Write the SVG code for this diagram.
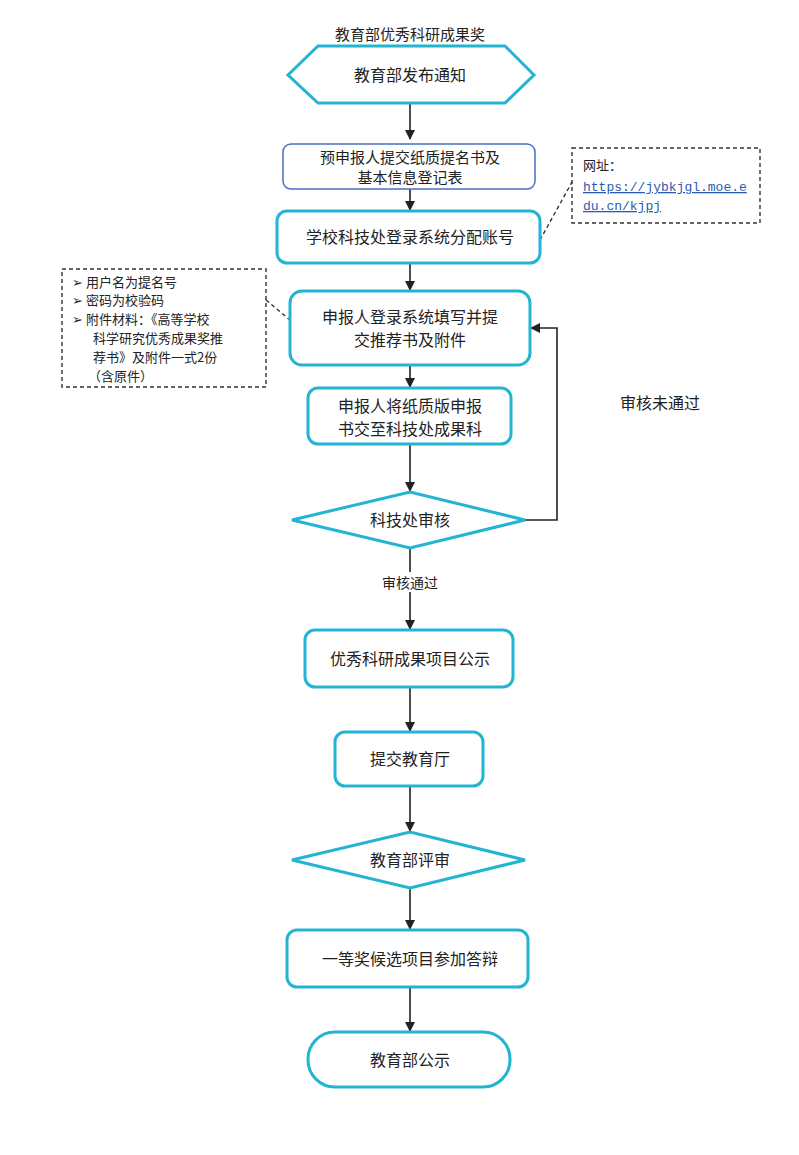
<svg xmlns="http://www.w3.org/2000/svg" width="799" height="1155" viewBox="0 0 799 1155">
<defs>
<style>
text{font-family:"Noto Sans CJK SC","Liberation Serif",sans-serif;font-size:16px;fill:#222;text-anchor:middle}
.n{fill:#fff;stroke:#22b5d2;stroke-width:3}
.c{stroke:#222;stroke-width:1.6;fill:none}
.d{stroke:#333;stroke-width:1.4;fill:none;stroke-dasharray:4 3}
.s{font-size:13px;text-anchor:start}
.l{font-family:"Liberation Mono",monospace;font-size:13px;fill:#2a5db0;text-decoration:underline;text-anchor:start}
</style>
<marker id="a" markerWidth="10" markerHeight="10" refX="9" refY="5" orient="auto" markerUnits="userSpaceOnUse"><path d="M0,0L10,5L0,10z" fill="#222"/></marker>
</defs>
<rect width="799" height="1155" fill="#fff"/>
<text x="410" y="40" style="font-size:15px">教育部优秀科研成果奖</text>
<g id="connectors">
<path class="c" marker-end="url(#a)" d="M410,103V139"/>
<path class="c" marker-end="url(#a)" d="M410,189V210"/>
<path class="c" marker-end="url(#a)" d="M410,263V290"/>
<path class="c" marker-end="url(#a)" d="M410,365V387"/>
<path class="c" marker-end="url(#a)" d="M410,444V491"/>
<path class="c" marker-end="url(#a)" d="M525,520H557V328H531"/>
<path class="c" marker-end="url(#a)" d="M410,548V629"/>
<path class="c" marker-end="url(#a)" d="M410,687V731"/>
<path class="c" marker-end="url(#a)" d="M410,786V831"/>
<path class="c" marker-end="url(#a)" d="M410,888V929"/>
<path class="c" marker-end="url(#a)" d="M410,987V1031"/>
<path class="d" d="M540,240L572,182"/>
<path class="d" d="M266,300L290,320"/>
<text x="660" y="409">审核未通过</text>
<rect x="376" y="572" width="68" height="20" fill="#fff"/>
<text x="410" y="588" style="font-size:14px">审核通过</text>
</g>
<g id="n1"><polygon class="n" points="288,75 318,46 505,46 534,75 505,103 318,103"/><text x="410" y="81">教育部发布通知</text></g>
<g id="n2"><rect x="283" y="144" width="252" height="45" rx="8" fill="#fff" stroke="#4a6fc0" stroke-width="1.5"/><text x="410" y="163" style="font-size:15px">预申报人提交纸质提名书及</text><text x="410" y="183" style="font-size:15px">基本信息登记表</text></g>
<g id="n3"><rect class="n" x="277" y="211" width="263" height="52" rx="10"/><text x="410" y="243">学校科技处登录系统分配账号</text></g>
<g id="n4"><rect class="n" x="290" y="291" width="240" height="74" rx="12"/><text x="410" y="323">申报人登录系统填写并提</text><text x="410" y="346">交推荐书及附件</text></g>
<g id="n5"><rect class="n" x="308" y="388" width="203" height="56" rx="10"/><text x="410" y="412">申报人将纸质版申报</text><text x="410" y="435">书交至科技处成果科</text></g>
<g id="n6"><polygon class="n" points="292,520 410,492 525,520 410,548"/><text x="410" y="526">科技处审核</text></g>
<g id="n7"><rect class="n" x="305" y="630" width="208" height="57" rx="10"/><text x="410" y="665">优秀科研成果项目公示</text></g>
<g id="n8"><rect class="n" x="335" y="732" width="148" height="54" rx="10"/><text x="410" y="765">提交教育厅</text></g>
<g id="n9"><polygon class="n" points="292,860 410,832 525,860 410,888"/><text x="410" y="866">教育部评审</text></g>
<g id="n10"><rect class="n" x="287" y="930" width="241" height="57" rx="10"/><text x="410" y="965">一等奖候选项目参加答辩</text></g>
<g id="n11"><rect class="n" x="308" y="1032" width="202" height="55" rx="27"/><text x="410" y="1066">教育部公示</text></g>
<g id="note1"><rect class="d" x="572" y="148" width="188" height="75" fill="#fff"/><text class="s" x="583" y="170">网址：</text><text class="l" x="583" y="191">https://jybkjgl.moe.e</text><text class="l" x="583" y="210">du.cn/kjpj</text></g>
<g id="note2"><rect class="d" x="62" y="269" width="204" height="118" fill="#fff"/>
<text class="s" x="72" y="287">➢ 用户名为提名号</text>
<text class="s" x="72" y="305">➢ 密码为校验码</text>
<text class="s" x="72" y="324">➢ 附件材料：《高等学校</text>
<text class="s" x="93" y="343">科学研究优秀成果奖推</text>
<text class="s" x="93" y="362">荐书》及附件一式2份</text>
<text class="s" x="88" y="381">（含原件）</text></g>
</svg>
